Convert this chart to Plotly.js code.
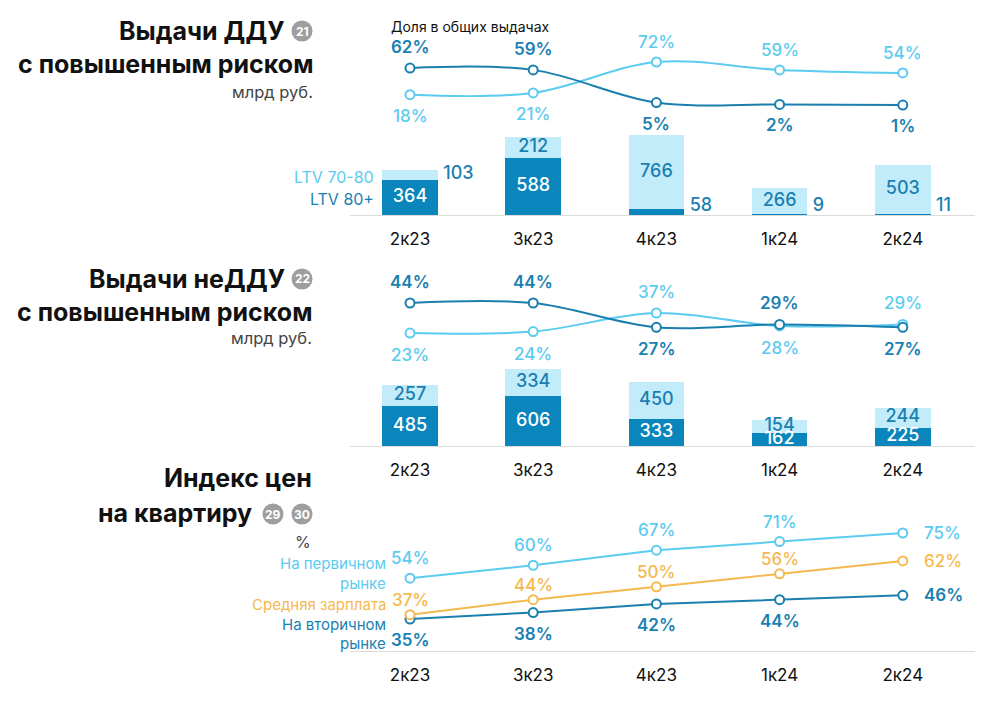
<!DOCTYPE html>
<html><head><meta charset="utf-8">
<script src="https://cdn.plot.ly/plotly-3.0.1.min.js"></script>
<style>html,body{margin:0;padding:0;background:#fff}#chart{width:982px;height:703px}</style>
</head><body><div id="chart"></div>
<script>
// ---------- DATA ----------
const categories = ['2к23','3к23','4к23','1к24','2к24'];
// Panel 1: Выдачи ДДУ с повышенным риском, млрд руб.
const dduLtv80 = [364, 588, 58, 9, 11];
const dduLtv7080 = [103, 212, 766, 266, 503];
const dduShare80 = [62, 59, 5, 2, 1];
const dduShare7080 = [18, 21, 72, 59, 54];
// Panel 2: Выдачи неДДУ с повышенным риском, млрд руб.
const nonDduLtv80 = [485, 606, 333, 162, 225];
const nonDduLtv7080 = [257, 334, 450, 154, 244];
const nonDduShare80 = [44, 44, 27, 29, 27];
const nonDduShare7080 = [23, 24, 37, 28, 29];
// Panel 3: Индекс цен на квартиру, %
const pricePrimary = [54, 60, 67, 71, 75];
const avgSalary = [37, 44, 50, 56, 62];
const priceSecondary = [35, 38, 42, 44, 46];

// ---------- STYLE ----------
const W = 982, H = 703;
const X = px => px / W, Y = py => 1 - py / H;
const C0 = 410, STEP = 123.2, XL = 350, XR = 975;
const xRange = [(XL - C0) / STEP, (XR - C0) / STEP];
const xDom = [X(XL), X(XR)];
const DARK = '#0a86bc', LIGHT = '#c3ecfb';
const DARKLINE = '#1a7fae', LIGHTLINE = '#5ccbf0', ORANGE = '#f5b94f';
const DARKTXT = '#1a7fb1';
const FONT = 'Inter, "Noto Sans", sans-serif';
const idx = categories.map((c, i) => i);

const traces = [];
const annotations = [];
const shapes = [];

function bars(xa, ya, bottom, top, name1, name2) {
  traces.push({type: 'bar', x: idx, y: bottom, name: name1, xaxis: xa, yaxis: ya,
    marker: {color: DARK}, width: 0.45, hoverinfo: 'skip'});
  traces.push({type: 'bar', x: idx, y: top, name: name2, xaxis: xa, yaxis: ya,
    marker: {color: LIGHT}, width: 0.45, hoverinfo: 'skip'});
}
function barLabels(xa, ya, vals, bases, place, inColor) {
  const x = [], y = [], pos = [], col = [];
  vals.forEach((v, i) => {
    const b = bases ? bases[i] : 0;
    const p = place[i];
    if (p === 'in') { x.push(i); y.push(b + v / 2); pos.push('middle center'); col.push(inColor); }
    else if (p === 'right') { x.push(i + 0.27); y.push(b + v / 2); pos.push('middle right'); col.push(DARKTXT); }
    else { x.push(i + 0.27); y.push(0); pos.push('top right'); col.push(DARKTXT); }
  });
  traces.push({type: 'scatter', mode: 'text', x, y, text: vals.map(String), textposition: pos,
    textfont: {family: FONT, size: 18, color: col, weight: 500}, xaxis: xa, yaxis: ya,
    hoverinfo: 'skip', showlegend: false, cliponaxis: true});
}
function line(xa, ya, vals, color, shape) {
  traces.push({type: 'scatter', mode: 'lines+markers', x: idx, y: vals, xaxis: xa, yaxis: ya,
    line: {color, width: 2, shape: shape, smoothing: 1},
    marker: {symbol: 'circle', size: 9, color: '#fff', line: {color, width: 2}},
    cliponaxis: false, hoverinfo: 'skip', showlegend: false});
}
function lineLabels(xa, ya, vals, pos, color, weight, up, down) {
  vals.forEach((v, i) => {
    const a = {x: i, y: v, xref: xa, yref: ya, text: v + '%', showarrow: false,
      font: {family: FONT, size: 17, color, weight}};
    if (pos[i] === 'top') a.yshift = up;
    else if (pos[i] === 'bottom') a.yshift = -down;
    else { a.xanchor = 'left'; a.xshift = 19; }
    annotations.push(a);
  });
}
function text(t, px, py, opts) {
  annotations.push(Object.assign({text: t, x: X(px), y: Y(py), xref: 'paper', yref: 'paper',
    showarrow: false, xanchor: 'right', yanchor: 'middle',
    font: {family: FONT, size: 15, color: '#222'}}, opts || {}));
}
function title(t, rightPx, py) {
  text(t, rightPx, py, {font: {family: FONT, size: 25, color: '#111', weight: 700}});
}
function badge(n, cx, cy) {
  const r = 10.5;
  shapes.push({type: 'circle', xref: 'paper', yref: 'paper', x0: X(cx - r), x1: X(cx + r),
    y0: Y(cy + r), y1: Y(cy - r), fillcolor: '#9e9e9e', line: {width: 0}});
  text(n, cx, cy, {xanchor: 'center', font: {family: FONT, size: 12, color: '#fff', weight: 700}});
}

// Panel 1
bars('x', 'y', dduLtv80, dduLtv7080, 'LTV 80+', 'LTV 70-80');
barLabels('x', 'y', dduLtv80, null, ['in', 'in', 'base', 'base', 'base'], '#fff');
barLabels('x', 'y', dduLtv7080, dduLtv80, ['right', 'in', 'in', 'in', 'in'], DARKTXT);
line('x2', 'y2', dduShare7080, LIGHTLINE, 'spline');
line('x2', 'y2', dduShare80, DARKLINE, 'spline');
lineLabels('x2', 'y2', dduShare80, ['top', 'top', 'bottom', 'bottom', 'bottom'], DARKTXT, 600, 21, 21);
lineLabels('x2', 'y2', dduShare7080, ['bottom', 'bottom', 'top', 'top', 'top'], LIGHTLINE, 500, 20, 21);

// Panel 2
bars('x3', 'y3', nonDduLtv80, nonDduLtv7080, 'LTV 80+', 'LTV 70-80');
barLabels('x3', 'y3', nonDduLtv80, null, ['in', 'in', 'in', 'in', 'in'], '#fff');
barLabels('x3', 'y3', nonDduLtv7080, nonDduLtv80, ['in', 'in', 'in', 'in', 'in'], DARKTXT);
line('x4', 'y4', nonDduShare7080, LIGHTLINE, 'spline');
line('x4', 'y4', nonDduShare80, DARKLINE, 'spline');
lineLabels('x4', 'y4', nonDduShare80, ['top', 'top', 'bottom', 'top', 'bottom'], DARKTXT, 600, 21, 22);
lineLabels('x4', 'y4', nonDduShare7080, ['bottom', 'bottom', 'top', 'bottom', 'top'], LIGHTLINE, 500, 21, 22);

// Panel 3
line('x5', 'y5', priceSecondary, DARKLINE, 'linear');
line('x5', 'y5', avgSalary, ORANGE, 'linear');
line('x5', 'y5', pricePrimary, LIGHTLINE, 'linear');
lineLabels('x5', 'y5', pricePrimary, ['top', 'top', 'top', 'top', 'right'], LIGHTLINE, 500, 20, 20);
lineLabels('x5', 'y5', avgSalary, ['top', 'top', 'top', 'top', 'right'], ORANGE, 500, 15, 20);
lineLabels('x5', 'y5', priceSecondary, ['bottom', 'bottom', 'bottom', 'bottom', 'right'], DARKTXT, 600, 20, 21);

// Titles & legends
title('Выдачи ДДУ', 287, 31); badge('21', 302, 31);
title('с повышенным риском', 315, 64);
text('млрд руб.', 315, 92, {font: {family: FONT, size: 16.5, color: '#444'}});
text('Доля в общих выдачах', 389, 26, {xanchor: 'left', font: {family: FONT, size: 14, color: '#111'}});
text('LTV 70-80', 376, 177, {font: {family: FONT, size: 16, color: LIGHTLINE}});
text('LTV 80+', 376, 199, {font: {family: FONT, size: 16, color: DARKTXT}});

title('Выдачи неДДУ', 287, 279); badge('22', 302, 279);
title('с повышенным риском', 314, 312);
text('млрд руб.', 314, 338, {font: {family: FONT, size: 16.5, color: '#444'}});

title('Индекс цен', 314, 478);
title('на квартиру', 254, 513); badge('29', 273, 514); badge('30', 302, 514);
text('%', 313, 542, {font: {family: FONT, size: 16, color: '#444'}});
text('На первичном', 388, 563, {font: {family: FONT, size: 15, color: LIGHTLINE}});
text('рынке', 388, 583, {font: {family: FONT, size: 15, color: LIGHTLINE}});
text('Средняя зарплата', 388, 604, {font: {family: FONT, size: 15, color: ORANGE}});
text('На вторичном', 388, 624, {font: {family: FONT, size: 15, color: DARKTXT}});
text('рынке', 388, 643, {font: {family: FONT, size: 15, color: DARKTXT}});

// Axes
function xTicks(anchor) {
  return {domain: xDom, range: xRange, anchor, tickvals: idx, ticktext: categories,
    showline: true, linecolor: '#dcdcdc', linewidth: 1, showgrid: false, zeroline: false,
    ticks: '', ticklabelstandoff: 9, tickfont: {family: FONT, size: 17, color: '#111'}, fixedrange: true};
}
function xHidden(anchor) {
  return {domain: xDom, range: xRange, anchor, visible: false, fixedrange: true};
}
function yHidden(top, bottom, range) {
  return {domain: [Y(bottom), Y(top)], range, visible: false, fixedrange: true};
}
const layout = {
  width: W, height: H, margin: {l: 0, r: 0, t: 0, b: 0},
  paper_bgcolor: '#fff', plot_bgcolor: 'rgba(0,0,0,0)',
  showlegend: false, barmode: 'stack', font: {family: FONT},
  xaxis: xTicks('y'), yaxis: yHidden(125, 215, [0, 90 / 0.097]),
  xaxis2: xHidden('y2'), yaxis2: yHidden(55, 115, [-15.46, 83.55]),
  xaxis3: xTicks('y3'), yaxis3: yHidden(355, 446, [0, 91 / 0.082]),
  xaxis4: xHidden('y4'), yaxis4: yHidden(290, 345, [14.63, 53.09]),
  xaxis5: xTicks('y5'), yaxis5: yHidden(515, 651, [20.12, 83.37]),
  annotations, shapes
};
Plotly.newPlot('chart', traces, layout, {staticPlot: true, displayModeBar: false});
</script>
</body></html>
